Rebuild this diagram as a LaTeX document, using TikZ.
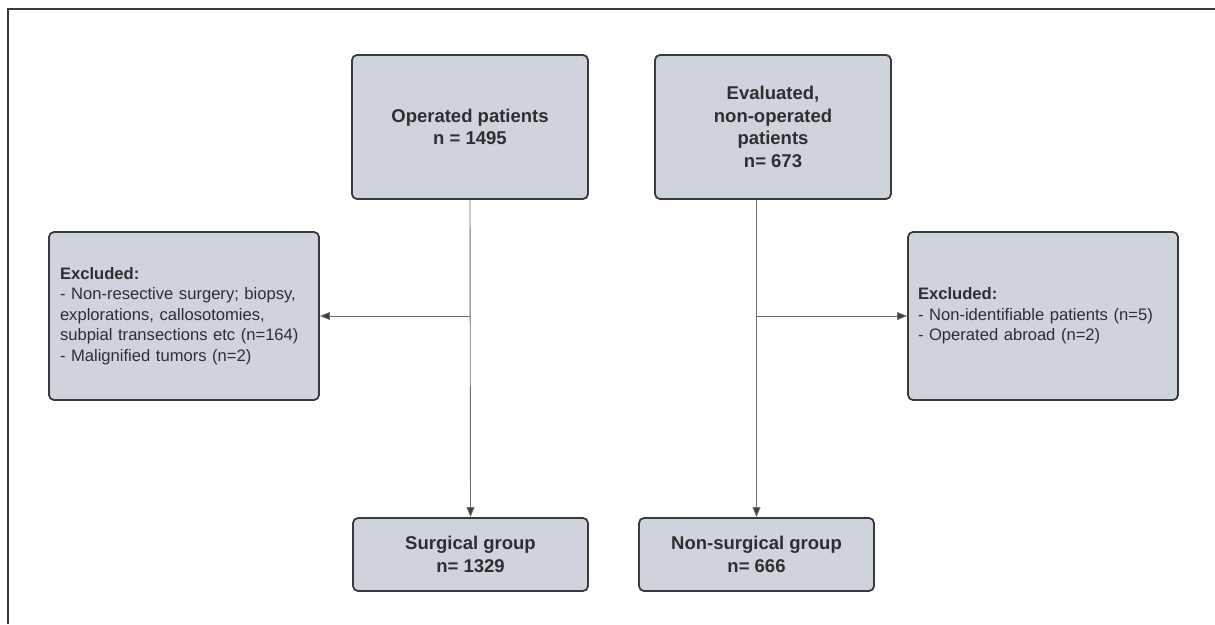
\documentclass[tikz,border=0pt]{standalone}
\usepackage{fontspec}
\setmainfont{Liberation Sans}
\usetikzlibrary{arrows.meta}
\definecolor{boxfill}{HTML}{CFD4DC}
\definecolor{boxline}{HTML}{3A3A3A}
\definecolor{txt}{HTML}{2E2E2E}
\definecolor{conncol}{HTML}{707070}
\tikzset{
  box/.style={draw=boxline, line width=1.8pt, fill=boxfill, rounded corners=5pt,
    text=txt, align=center, inner sep=0pt},
  bigbox/.style={box, minimum width=236pt, minimum height=144pt,
    font=\fontsize{18.5}{22.7}\selectfont\bfseries},
  smallbox/.style={box, minimum width=235pt, minimum height=73pt,
    font=\fontsize{18.5}{22.7}\selectfont\bfseries},
  exclbox/.style={box, minimum width=270pt, minimum height=168pt, align=left,
    text width=248pt, font=\fontsize{16.6}{20.5}\selectfont},
  conn/.style={draw=conncol, line width=0.9pt, -{Triangle[length=10pt,width=8pt,fill=boxline]}},
  plain/.style={draw=conncol, line width=0.9pt}
}
\begin{document}
\begin{tikzpicture}[x=1pt,y=1pt]
\useasboundingbox[fill=white] (0,0) rectangle (1215,-624);
\draw[line width=2pt, draw=boxline] (8,-624) -- (8,-9) -- (1215,-9);

\node[bigbox] (op) at (470,-127) {Operated patients\\n = 1495};
\node[bigbox] (ev) at (773,-127) {Evaluated,\\non-operated\\patients\\n= 673};
\node[exclbox] (exl) at (184,-316) {\textbf{Excluded:}\\- Non-resective surgery; biopsy,\\explorations, callosotomies,\\subpial transections etc (n=164)\\- Malignified tumors (n=2)};
\node[exclbox, text width=250pt] (exr) at (1043,-316) {\textbf{Excluded:}\\- Non-identifiable patients (n=5)\\- Operated abroad (n=2)};
\node[smallbox] (sg) at (470.5,-554.5) {Surgical group\\n= 1329};
\node[smallbox] (nsg) at (756.5,-554.5) {Non-surgical group\\n= 666};

\coordinate (j1) at (op.south |- exl.east);
\coordinate (top2) at (nsg.north |- ev.south);
\coordinate (j2) at (nsg.north |- exr.west);

\draw[conn] (op.south) -- (sg.north);
\draw[conn] (j1) -- (exl.east);
\draw[conn] (top2) -- (nsg.north);
\draw[conn] (j2) -- (exr.west);
\end{tikzpicture}
\end{document}
